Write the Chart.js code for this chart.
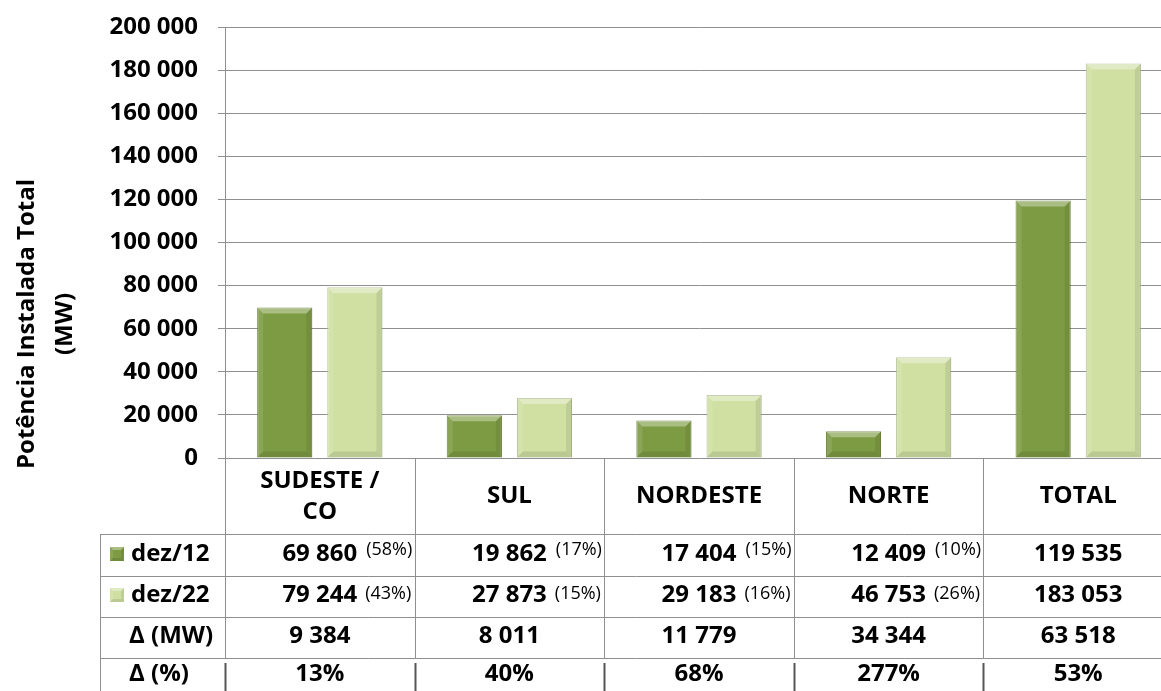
<!DOCTYPE html>
<html><head><meta charset="utf-8">
<script src="https://cdn.jsdelivr.net/npm/chart.js@4.4.1/dist/chart.umd.min.js"></script>
<style>html,body{margin:0;padding:0;overflow:hidden;background:#fff}
#wrap{position:relative;width:1173px;height:691px}</style>
</head><body><div id="wrap"><canvas id="c" width="1173" height="691"></canvas></div>
<script>
const categories = [['SUDESTE /','CO'],'SUL','NORDESTE','NORTE','TOTAL'];
const seriesNames = ['dez/12','dez/22'];
const dez12 = [69860,19862,17404,12409,119535];
const dez22 = [79244,27873,29183,46753,183053];
const share12 = ['(58%)','(17%)','(15%)','(10%)',''];
const share22 = ['(43%)','(15%)','(16%)','(26%)',''];
const deltaMW = [9384,8011,11779,34344,63518];
const deltaPct = ['13%','40%','68%','277%','53%'];
const yMin = 0, yMax = 200000, yStep = 20000;
const yTitle = ['Potência Instalada Total','(MW)'];

const DARK = '#7D9B43', LIGHT = '#D0E0A3';
const GRID = '#8f8f8f';
const FONT = '"Open Sans"';
const fmt = n => String(n).replace(/\B(?=(\d{3})+(?!\d))/g, ' ');

function bevel(ctx, l, t, r, b, s) {
  const h = b - t; s = Math.min(s, h / 2, (r - l) / 2);
  ctx.save();
  ctx.fillStyle = 'rgba(255,255,255,0.35)';
  ctx.beginPath(); ctx.moveTo(l,t); ctx.lineTo(r,t); ctx.lineTo(r-s,t+s); ctx.lineTo(l+s,t+s); ctx.closePath(); ctx.fill();
  ctx.fillStyle = 'rgba(255,255,255,0.1)';
  ctx.beginPath(); ctx.moveTo(l,t); ctx.lineTo(l+s,t+s); ctx.lineTo(l+s,b-s); ctx.lineTo(l,b); ctx.closePath(); ctx.fill();
  ctx.fillStyle = 'rgba(0,0,0,0.08)';
  ctx.beginPath(); ctx.moveTo(r,t); ctx.lineTo(r,b); ctx.lineTo(r-s,b-s); ctx.lineTo(r-s,t+s); ctx.closePath(); ctx.fill();
  ctx.fillStyle = 'rgba(0,0,0,0.1)';
  ctx.beginPath(); ctx.moveTo(l,b); ctx.lineTo(r,b); ctx.lineTo(r-s,b-s); ctx.lineTo(l+s,b-s); ctx.closePath(); ctx.fill();
  ctx.restore();
}

const bevelPlugin = {
  id: 'bevel',
  afterDatasetsDraw(chart) {
    const ctx = chart.ctx;
    chart.data.datasets.forEach((ds, di) => {
      chart.getDatasetMeta(di).data.forEach(el => {
        const p = el.getProps(['x','y','base','width'], true);
        bevel(ctx, p.x - p.width/2, p.y, p.x + p.width/2, p.base, 6);
      });
    });
  }
};

const tablePlugin = {
  id: 'table',
  afterDraw(chart) {
    const ctx = chart.ctx, xs = chart.scales.x, ca = chart.chartArea;
    const n = categories.length;
    const cw = (ca.right - ca.left) / n;
    const top = ca.bottom;
    const rows = [534, 576, 617, 658];
    const H = chart.height;
    const labelLeft = 100;
    ctx.save();
    ctx.strokeStyle = GRID; ctx.lineWidth = 1;
    rows.forEach(y => { ctx.beginPath(); ctx.moveTo(labelLeft, y + 0.5); ctx.lineTo(ca.right, y + 0.5); ctx.stroke(); });
    ctx.beginPath(); ctx.moveTo(labelLeft + 0.5, rows[0]); ctx.lineTo(labelLeft + 0.5, H); ctx.stroke();
    for (let i = 0; i < n; i++) {
      const xl = Math.round(xs.getPixelForValue(i) - cw / 2) + 0.5;
      ctx.strokeStyle = GRID; ctx.lineWidth = 1;
      ctx.beginPath(); ctx.moveTo(xl, top); ctx.lineTo(xl, rows[3]); ctx.stroke();
      ctx.strokeStyle = '#555'; ctx.lineWidth = 2;
      ctx.beginPath(); ctx.moveTo(xl, rows[3] + 5); ctx.lineTo(xl, H); ctx.stroke();
    }
    ctx.fillStyle = '#000';
    ctx.textBaseline = 'middle';
    ctx.textAlign = 'center';
    const bold = 'bold 24px ' + FONT;
    categories.forEach((c, i) => {
      const cx = xs.getPixelForValue(i);
      ctx.font = bold;
      if (Array.isArray(c)) {
        ctx.fillText(c[0], cx, 481);
        ctx.fillText(c[1], cx, 512);
      } else ctx.fillText(c, cx, 496);
    });
    const rowC = [554, 595, 636, 674];
    for (let i = 0; i < n; i++) {
      const cx = xs.getPixelForValue(i);
      ctx.textAlign = 'center'; ctx.font = bold;
      const s1 = fmt(dez12[i]), s2 = fmt(dez22[i]);
      ctx.fillText(s1, cx, rowC[0]);
      ctx.fillText(s2, cx, rowC[1]);
      ctx.fillText(fmt(deltaMW[i]), cx, rowC[2]);
      ctx.fillText(deltaPct[i], cx, rowC[3]);
      ctx.textAlign = 'left';
      const w1 = ctx.measureText(s1).width, w2 = ctx.measureText(s2).width;
      ctx.font = '18px ' + FONT;
      if (share12[i]) ctx.fillText(share12[i], cx + w1/2 + 9, rowC[0] - 4);
      if (share22[i]) ctx.fillText(share22[i], cx + w2/2 + 8, rowC[1] - 1);
    }
    ctx.textAlign = 'left'; ctx.font = bold;
    const markers = [DARK, LIGHT];
    [0,1].forEach(k => {
      const y = rowC[k];
      ctx.fillStyle = markers[k];
      ctx.fillRect(110, y - 7, 14, 14);
      bevel(ctx, 110, y - 7, 124, y + 7, 3);
      ctx.fillStyle = '#000';
      ctx.fillText(seriesNames[k], 131, y);
    });
    ctx.fillText('Δ (MW)', 129, rowC[2]);
    ctx.fillText('Δ (%)', 129, rowC[3]);
    ctx.font = 'bold 24px ' + FONT;
    ctx.textAlign = 'center';
    ctx.save();
    ctx.translate(0, 324); ctx.rotate(-Math.PI / 2);
    ctx.fillText(yTitle[0], 0, 27);
    ctx.fillText(yTitle[1], 0, 65);
    ctx.restore();
    ctx.restore();
  }
};

function build() {
  new Chart(document.getElementById('c'), {
    type: 'bar',
    data: {
      labels: categories,
      datasets: [
        { label: seriesNames[0], data: dez12, backgroundColor: DARK, borderColor: '#5f7a2e', borderWidth: 1,
          categoryPercentage: 0.74, barPercentage: 0.786 },
        { label: seriesNames[1], data: dez22, backgroundColor: LIGHT, borderColor: '#a9b98a', borderWidth: 1,
          categoryPercentage: 0.74, barPercentage: 0.786 }
      ]
    },
    options: {
      responsive: false, animation: false,
      layout: { padding: { top: 27, bottom: 233, left: 0, right: 0 } },
      plugins: { legend: { display: false }, tooltip: { enabled: false } },
      scales: {
        x: { display: false },
        y: {
          min: yMin, max: yMax,
          ticks: { stepSize: yStep, callback: v => fmt(v), color: '#000', padding: 20,
                   font: { family: 'Open Sans', weight: 'bold', size: 24, lineHeight: 1 } },
          grid: { color: GRID, tickLength: 7, lineWidth: 1 },
          border: { color: GRID },
          afterFit(s) { s.width = 225; s.paddingTop = 0; s.paddingBottom = 0; }
        }
      }
    },
    plugins: [bevelPlugin, tablePlugin]
  });
}
Promise.all([document.fonts.load('bold 24px "Open Sans"'), document.fonts.load('18px "Open Sans"')]).then(build, build);
</script></body></html>
